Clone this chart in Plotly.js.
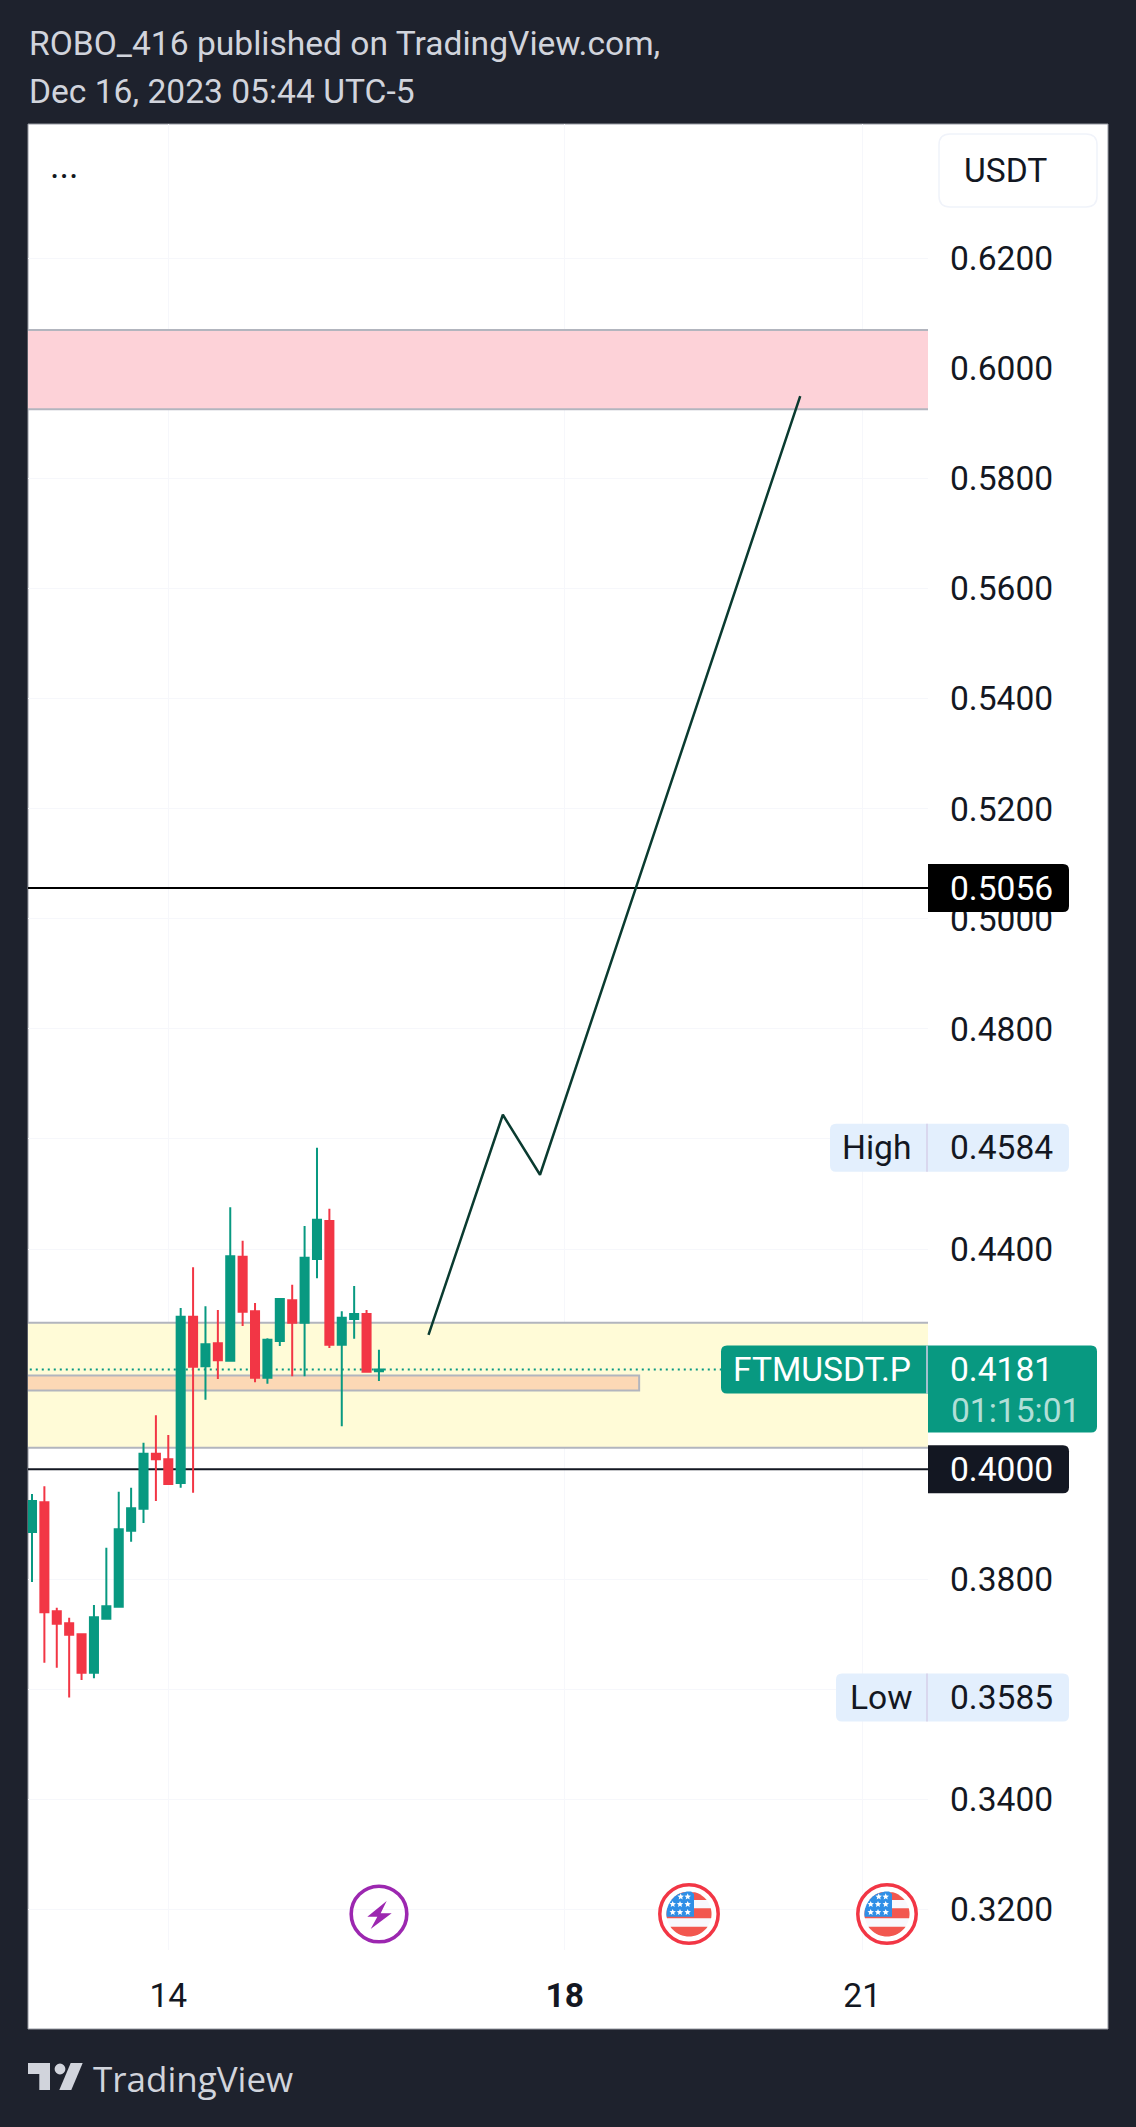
<!DOCTYPE html>
<html>
<head>
<meta charset="utf-8">
<script src="https://cdn.plot.ly/plotly-3.0.1.min.js"></script>
<style>html,body{margin:0;padding:0;background:#1e222d;overflow:hidden}#chart{width:1136px;height:2127px}</style>
</head>
<body>
<div id="chart"></div>
<script>
// ---------- data ----------
const candleTimes = [
  '2023-12-12 15:00','2023-12-12 18:00','2023-12-12 21:00','2023-12-13 00:00','2023-12-13 03:00','2023-12-13 06:00',
  '2023-12-13 09:00','2023-12-13 12:00','2023-12-13 15:00','2023-12-13 18:00','2023-12-13 21:00','2023-12-14 00:00',
  '2023-12-14 03:00','2023-12-14 06:00','2023-12-14 09:00','2023-12-14 12:00','2023-12-14 15:00','2023-12-14 18:00',
  '2023-12-14 21:00','2023-12-15 00:00','2023-12-15 03:00','2023-12-15 06:00','2023-12-15 09:00','2023-12-15 12:00',
  '2023-12-15 15:00','2023-12-15 18:00','2023-12-15 21:00','2023-12-16 00:00','2023-12-16 03:00'];
const opens  = [.3886,.3940,.3742,.3720,.3700,.3630,.3728,.3750,.3888,.3928,.4028,.4018,.3975,.4277,.4187,.4229,.4197,.4386,.4287,.4166,.4233,.4307,.4266,.4382,.4451,.4226,.4273,.4282,.4178];
const highs  = [.3955,.3969,.3748,.3730,.3700,.3753,.3857,.3959,.3966,.4048,.4098,.4062,.4293,.4367,.4296,.4289,.4476,.4415,.4302,.4238,.4309,.4335,.4442,.4584,.4473,.4287,.4333,.4289,.4217];
const lows   = [.3795,.3648,.3639,.3585,.3617,.3620,.3728,.3750,.3868,.3902,.3942,.3971,.3966,.3957,.4126,.4164,.4197,.4260,.4158,.4155,.4224,.4169,.4169,.4347,.4220,.4078,.4237,.4175,.4160];
const closes = [.3942,.3740,.3719,.3699,.3630,.3731,.3751,.3891,.3929,.4028,.4018,.3973,.4277,.4186,.4227,.4198,.4387,.4286,.4166,.4235,.4309,.4266,.4384,.4453,.4226,.4275,.4282,.4177,.4181];

const priceTicks = [.32,.34,.36,.38,.40,.42,.44,.46,.48,.50,.52,.54,.56,.58,.60,.62];
const hiddenPriceLabels = [.36,.40,.42,.46]; // covered by the badges in the reference
const dayTicks = ['2023-12-14','2023-12-18','2023-12-21'];
const dayLabels = ['14','<b>18</b>','21'];

const projectionTimes = ['2023-12-16 15:00','2023-12-17 09:00','2023-12-17 18:00','2023-12-20 09:00'];
const projectionPrices = [.4244,.4644,.4535,.5950];

const pinkZone = [.5926,.6070];
const yellowZone = [.4039,.4266];
const orangeZone = [.4143,.4170];
const orangeZoneEnd = '2023-12-18 18:00';
const blackLevels = [.5056,.4000];
const lastPrice = .4181;
const highPrice = .4584;
const lowPrice = .3585;
const countdown = '01:15:01';
const symbol = 'FTMUSDT.P';
const currency = 'USDT';
const titleLines = ['ROBO_416 published on TradingView.com,','Dec 16, 2023 05:44 UTC-5'];

// ---------- layout constants ----------
const W = 1136, H = 2127, L = 28, R = 928, T = 124, B = 1950;
const xRange = ['2023-12-12 14:02','2023-12-21 15:56'];
const zoneStart = '2023-12-10', zoneEnd = '2023-12-24';
const yRange = [0.31262,0.64444];
const FONT = 'Roboto, sans-serif';
const FS = 33.6;
const INK = '#131722', GREEN = '#089981', RED = '#f23645', DARK = '#1e222d', LIGHT = '#d1d4dc', BADGE = '#e3effd';

const px = v => (v - L) / (R - L);
const py = v => (B - v) / (B - T);
const pts = a => 'M' + a.map(p => px(p[0]) + ',' + py(p[1])).join(' L') + ' Z';
const paperShape = (path, fill, extra) => Object.assign({type:'path', xref:'paper', yref:'paper', path, fillcolor:fill, line:{width:0}, layer:'above'}, extra || {});
const circle = (cx, cy, r, fill, lineColor, lw) => ({type:'circle', xref:'paper', yref:'paper', x0:px(cx-r), x1:px(cx+r), y0:py(cy+r), y1:py(cy-r),
  fillcolor:fill, line:{color:lineColor, width:lw}, layer:'above'});

function rrPath(x0,y0,x1,y1,rl,rr){
  const X=px, Y=py;
  return `M${X(x0+rl)},${Y(y0)} L${X(x1-rr)},${Y(y0)} Q${X(x1)},${Y(y0)} ${X(x1)},${Y(y0+rr)} L${X(x1)},${Y(y1-rr)} Q${X(x1)},${Y(y1)} ${X(x1-rr)},${Y(y1)} L${X(x0+rl)},${Y(y1)} Q${X(x0)},${Y(y1)} ${X(x0)},${Y(y1-rl)} L${X(x0)},${Y(y0+rl)} Q${X(x0)},${Y(y0)} ${X(x0+rl)},${Y(y0)} Z`;
}
// badge anchored to a price on the y scale; up/down are pixels around that price
function priceBadge(price,x0,x1,up,down,fill,rl,rr){
  const a=x0-L,b=x1-L;
  return {type:'path', layer:'above', xref:'paper', yref:'y', xsizemode:'pixel', ysizemode:'pixel', xanchor:0, yanchor:price, fillcolor:fill, line:{width:0},
    path:`M${a+rl},${up} L${b-rr},${up} Q${b},${up} ${b},${up-rr} L${b},${-down+rr} Q${b},${-down} ${b-rr},${-down} L${a+rl},${-down} Q${a},${-down} ${a},${-down+rl} L${a},${up-rl} Q${a},${up} ${a+rl},${up} Z`};
}
function divider(price,up,down){
  return {type:'line', layer:'above', xref:'paper', yref:'y', ysizemode:'pixel', yanchor:price, x0:px(927), x1:px(927), y0:-down, y1:up, line:{color:'#d6cfe8', width:1.5}};
}
const zone = (range,fill,x1) => ({type:'rect', layer:'between', xref:'x', yref:'y', x0:zoneStart, x1:x1||zoneEnd, y0:range[0], y1:range[1], fillcolor:fill, line:{color:'#b2b5be', width:2}});
const levelLine = (v,color) => ({type:'line', layer:'between', xref:'x', yref:'y', x0:zoneStart, x1:zoneEnd, y0:v, y1:v, line:{color, width:2}});

function segment(cx,cy,r,y0,y1,xMin,xMax){
  const right=[],left=[];
  for(let k=0;k<=10;k++){
    const y=y0+(y1-y0)*k/10, d=Math.sqrt(Math.max(0,r*r-y*y));
    right.push([cx+Math.min(d,xMax),cy+y]); left.unshift([cx+Math.max(-d,xMin),cy+y]);
  }
  return pts(right.concat(left));
}
function star(cx,cy,r){
  const a=[];
  for(let k=0;k<10;k++){const t=-Math.PI/2+k*Math.PI/5, q=k%2?r*0.45:r; a.push([cx+q*Math.cos(t),cy+q*Math.sin(t)]);}
  return pts(a);
}
function flag(cx,cy){
  const out=[circle(cx,cy,29.2,'#ffffff',RED,3.5), circle(cx,cy,22.5,'#f8f9fd','#f8f9fd',0)];
  const red='#f2574f';
  [[-21.7,-14],[-5.7,4.3],[12.7,22.4]].forEach(s=>out.push(paperShape(segment(cx,cy,22.5,s[0],s[1],-23,23),red)));
  out.push(paperShape(segment(cx,cy,22.5,-22.4,2.7,-23,5),'#2f8fe6'));
  [[-8.3,-17.3],[-1.3,-17.3],[-16.3,-9.7],[-9,-9.7],[-1.3,-9.7],[-16.3,-1.7],[-9,-1.7],[-1.3,-1.7]].forEach(s=>out.push(paperShape(star(cx+s[0],cy+s[1],3.4),'#ffffff')));
  return out;
}
function bolt(){
  const p=[[140,78],[82,125],[112,125],[92,162],[155,115],[122,115]].map(q=>[340+q[0]/3,1875+q[1]/3]);
  return [circle(379,1914,27.8,'rgba(255,255,255,0)','#9c27b0',3.6), paperShape(pts(p),'#9c27b0')];
}
const logo = [
  paperShape(pts([[28,2063],[50,2063],[50,2090],[39.3,2090],[39.3,2074],[28,2074]]),LIGHT),
  circle(60,2069,5.4,LIGHT,LIGHT,0),
  paperShape(pts([[82.7,2063],[71.3,2090],[59.3,2090],[70.7,2063]]),LIGHT)
];

const shapes = [
  {type:'rect', layer:'below', xref:'paper', yref:'paper', x0:px(L), x1:px(1108), y0:py(2029), y1:py(T), fillcolor:'#ffffff', line:{color:'#9598a1', width:1}},
  zone(pinkZone,'#fdd2d8'),
  zone(yellowZone,'#fffbd7'),
  zone(orangeZone,'#fcd8b5',orangeZoneEnd),
  levelLine(blackLevels[0],'#000000'),
  levelLine(blackLevels[1],INK),
  {type:'line', layer:'between', xref:'x', yref:'y', x0:zoneStart, x1:'2023-12-19 22:48', y0:lastPrice, y1:lastPrice, line:{color:GREEN, width:2, dash:'2px,4px'}},
  paperShape(rrPath(939,134,1097,207,11,11),'#ffffff',{line:{color:'#f0f3fa',width:1.5}}),
  priceBadge(blackLevels[0],928,1069,24,24,'#000000',0,6),
  priceBadge(blackLevels[1],928,1069,24,24,INK,0,6),
  priceBadge(highPrice,830,1069,24,24,BADGE,6,6),
  divider(highPrice,24,24),
  priceBadge(lowPrice,836,1069,24,24,BADGE,6,6),
  divider(lowPrice,24,24),
  priceBadge(lastPrice,721,928,24,24,GREEN,6,0),
  priceBadge(lastPrice,928,1097,24,63,GREEN,0,6),
  divider(lastPrice,24,24),
  ...bolt(), ...flag(689,1914), ...flag(887,1914),
  ...logo
];

const note = (text,xp,yv,color,size,opts) => Object.assign({text, xref:'paper', yref:'y', x:px(xp), y:yv, xanchor:'left', yanchor:'middle', showarrow:false,
  font:{family:FONT,size:size||FS,color}, borderpad:0, borderwidth:0}, opts||{});
const pageNote = (text,xp,yp,color,size,family) => ({text, xref:'paper', yref:'paper', x:px(xp), y:py(yp), xanchor:'left', yanchor:'middle', showarrow:false,
  font:{family:family||FONT,size:size||FS,color}, borderpad:0});

const annotations = [
  pageNote(titleLines[0],28,44,LIGHT),
  pageNote(titleLines[1],28,91,LIGHT),
  pageNote('...',49,166,INK,36),
  pageNote(currency,963,170,INK),
  note(blackLevels[0].toFixed(4),950,blackLevels[0],'#ffffff'),
  note(blackLevels[1].toFixed(4),950,blackLevels[1],'#ffffff'),
  note('High',842,highPrice,INK),
  note(highPrice.toFixed(4),950,highPrice,INK),
  note('Low',850,lowPrice,INK),
  note(lowPrice.toFixed(4),950,lowPrice,INK),
  note(symbol,733,lastPrice,'#ffffff'),
  note(lastPrice.toFixed(4),950,lastPrice,'#ffffff'),
  pageNote(countdown,950,1410,'rgba(255,255,255,0.7)'),
  pageNote('TradingView',92,2078,LIGHT,35,'"Open Sans", sans-serif')
];

const traces = [
  {type:'candlestick', x:candleTimes, open:opens, high:highs, low:lows, close:closes, whiskerwidth:0,
   increasing:{line:{color:GREEN,width:2},fillcolor:GREEN}, decreasing:{line:{color:RED,width:2},fillcolor:RED}, hoverinfo:'skip', showlegend:false},
  {type:'scatter', mode:'lines', x:projectionTimes, y:projectionPrices, line:{color:'#0a3b30',width:2.5}, hoverinfo:'skip', showlegend:false}
];

const layout = {
  width:W, height:H, autosize:false, showlegend:false,
  paper_bgcolor:DARK, plot_bgcolor:'#ffffff',
  margin:{l:L, r:W-R, t:T, b:H-B, pad:0},
  boxgap:0.35, boxgroupgap:0,
  font:{family:FONT,size:FS,color:INK},
  xaxis:{type:'date', range:xRange, tickmode:'array', tickvals:dayTicks, ticktext:dayLabels, tickangle:0, ticks:'', ticklabelstandoff:22,
    showgrid:true, gridcolor:'#f6f7fb', gridwidth:1, zeroline:false, showline:false, rangeslider:{visible:false}, tickfont:{family:FONT,size:FS,color:INK}, fixedrange:true},
  yaxis:{type:'linear', side:'right', range:yRange, tickmode:'array', tickvals:priceTicks, ticktext:priceTicks.map(v=>hiddenPriceLabels.includes(v)?'':v.toFixed(4)), ticks:'', ticklabelstandoff:21,
    showgrid:true, gridcolor:'#f6f7fb', gridwidth:1, zeroline:false, showline:false, tickfont:{family:FONT,size:FS,color:INK}, fixedrange:true},
  shapes, annotations
};
Plotly.newPlot('chart',traces,layout,{staticPlot:true,displayModeBar:false,responsive:false});
</script>
</body>
</html>
